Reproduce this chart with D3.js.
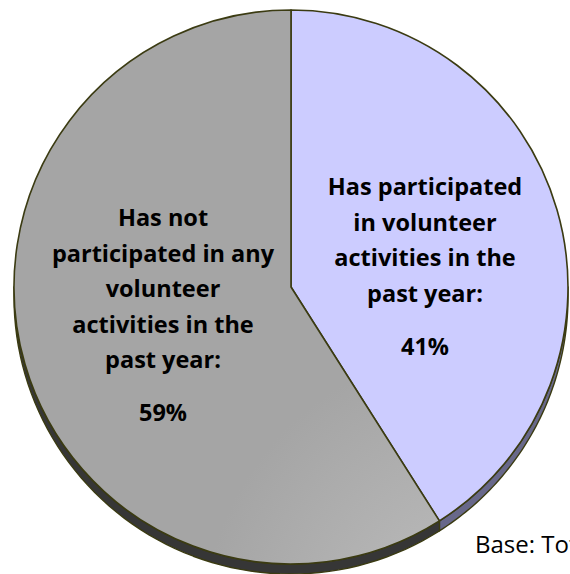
<!DOCTYPE html>
<html>
<head>
<meta charset="utf-8">
<script src="https://cdn.jsdelivr.net/npm/d3@7"></script>
<style>
  html, body { margin: 0; padding: 0; background: #fff; overflow: hidden; }
  svg { display: block; }
</style>
</head>
<body>
<svg id="chart" width="570" height="574"></svg>
<script>
// Volunteer participation in the past year
const categories = ["Has participated in volunteer activities in the past year:",
                    "Has not participated in any volunteer activities in the past year:"];
const values = [41, 59];
const labelLines = [
  ["Has participated", "in volunteer", "activities in the", "past year:"],
  ["Has not", "participated in any", "volunteer", "activities in the", "past year:"]
];
const valueLabels = ["41%", "59%"];
const topColors = ["#ccccff", "url(#grayFace)"];
const sideColors = ["#68688a", "#363636"];
const baseNote = "Base: Total";

const W = 570, H = 574;
const cx = 291, cy = 287, R = 277, depth = 10;
const edge = "#3b3b12";

const svg = d3.select("#chart");
const defs = svg.append("defs");
const grad = defs.append("radialGradient").attr("id", "grayFace")
  .attr("gradientUnits", "userSpaceOnUse")
  .attr("cx", cx - 90).attr("cy", cy + 60).attr("r", R * 1.05);
grad.append("stop").attr("offset", 0).attr("stop-color", "#c0c0c0");
grad.append("stop").attr("offset", 1).attr("stop-color", "#a5a5a5");

const pie = d3.pie().sort(null).value(d => d);
const arcs = pie(values);
const arc = d3.arc().innerRadius(0).outerRadius(R);

const g = svg.append("g").attr("transform", `translate(${cx},${cy})`);

// side wall of the disc: only the front half (angles PI/2 .. 3PI/2) is visible
const px = a => R * Math.sin(a);
const py = a => -R * Math.cos(a);
arcs.forEach((a, i) => {
  const a0 = Math.max(a.startAngle, Math.PI / 2);
  const a1 = Math.min(a.endAngle, 3 * Math.PI / 2);
  if (a1 <= a0) return;
  const p = d3.path();
  const n = 60;
  p.moveTo(px(a0), py(a0));
  for (let k = 1; k <= n; k++) {
    const t = a0 + (a1 - a0) * k / n;
    p.lineTo(px(t), py(t));
  }
  for (let k = n; k >= 0; k--) {
    const t = a0 + (a1 - a0) * k / n;
    p.lineTo(px(t), py(t) + depth);
  }
  p.closePath();
  g.append("path").attr("d", p.toString())
    .attr("fill", sideColors[i])
    .attr("stroke", edge).attr("stroke-width", 1.4).attr("stroke-linejoin", "round");
});

// top faces
g.selectAll("path.face").data(arcs).join("path")
  .attr("class", "face")
  .attr("d", arc)
  .attr("fill", (d, i) => topColors[i])
  .attr("stroke", edge).attr("stroke-width", 1.6).attr("stroke-linejoin", "round");

// slice labels
const labelPos = [[425, 186], [163, 217]];
const lineGap = 35.5;
const font = "'Open Sans', 'Noto Sans', sans-serif";
const fs = 23.5;
arcs.forEach((a, i) => {
  const [lx, ly] = labelPos[i];
  const t = svg.append("text")
    .attr("text-anchor", "middle")
    .attr("font-family", font).attr("font-weight", 700)
    .attr("font-size", fs).attr("fill", "#000");
  labelLines[i].forEach((s, k) => {
    t.append("tspan").attr("x", lx).attr("y", ly + k * lineGap)
      .attr("dominant-baseline", "central").text(s);
  });
  svg.append("text")
    .attr("x", lx).attr("y", ly + (labelLines[i].length - 1) * lineGap + 53)
    .attr("text-anchor", "middle").attr("dominant-baseline", "central")
    .attr("font-family", font).attr("font-weight", 700)
    .attr("font-size", fs).attr("fill", "#000")
    .text(valueLabels[i]);
});

// base note (runs past the right edge)
svg.append("text")
  .attr("x", 475).attr("y", 553)
  .attr("font-family", font).attr("font-size", 24).attr("fill", "#000")
  .text(baseNote);
</script>
</body>
</html>
